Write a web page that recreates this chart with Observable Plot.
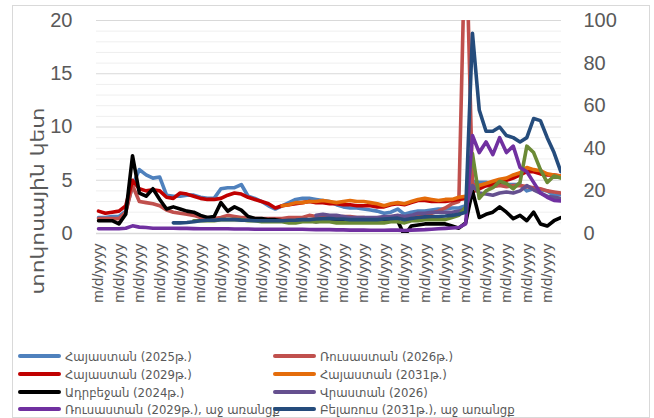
<!DOCTYPE html>
<html><head><meta charset="utf-8">
<script src="https://cdn.jsdelivr.net/npm/d3@7"></script>
<script src="https://cdn.jsdelivr.net/npm/@observablehq/plot@0.6"></script>
<style>
body{margin:0;background:#fff;}
#wrap{position:relative;width:654px;height:418px;overflow:hidden;font-family:"DejaVu Sans Condensed","DejaVu Sans",sans-serif;}
#frame{position:absolute;left:12px;top:5px;width:638px;height:413px;border:1px solid #d9d9d9;box-sizing:border-box;}
#chart{position:absolute;left:0;top:0;}
#legend{position:absolute;left:0;top:0;width:654px;height:418px;}
.item{position:absolute;height:16px;display:flex;align-items:center;font-size:13px;color:#595959;white-space:nowrap;}
.sw{width:43px;height:4px;border-radius:2px;margin-right:4px;flex:none;}
</style></head><body>
<div id="wrap"><div id="frame"></div><div id="chart"></div><div id="legend"></div></div>
<script>
// x tick labels (all dates shown as the raw format string in the source)
const tickIndex = [0,3,6,9,12,15,18,21,24,27,30,33,36,39,42,45,48,51,54,57,60,63,66];
const tickLabel = "m/d/yyyy";
const yTitle = "տոկոսային կետ";

// left-axis series (percentage points)
const arm2025 = [1.5,1.5,1.6,1.6,2.1,4.5,6.0,5.5,5.2,5.3,3.6,3.5,3.5,3.6,3.6,3.4,3.3,3.3,4.2,4.3,4.3,4.6,3.5,3.3,3.0,2.6,2.3,2.6,2.9,3.2,3.3,3.3,3.2,3.1,3.0,2.7,2.5,2.4,2.4,2.3,2.2,2.1,1.9,2.0,2.3,1.8,2.0,2.1,2.1,2.2,2.3,2.3,2.4,2.4,2.6,4.9,4.8,4.8,4.7,4.7,4.6,4.6,4.6,4.0,4.2,4.1,4.0,3.6,3.7];
const rus2026 = [1.4,1.4,1.4,1.4,2.0,4.5,3.0,2.9,2.8,2.6,2.2,2.0,1.9,1.8,1.7,1.5,1.5,1.4,1.5,1.7,1.6,1.5,1.5,1.4,1.4,1.4,1.4,1.4,1.5,1.5,1.5,1.7,1.6,1.5,1.5,1.5,1.6,1.6,1.5,1.5,1.4,1.4,1.5,1.6,1.6,1.5,1.6,1.7,1.8,1.9,2.1,2.4,2.8,3.0,30,4.6,4.5,4.5,4.4,4.5,4.4,4.5,4.5,4.4,4.3,4.2,4.0,3.9,3.8];
const arm2029 = [2.1,1.9,2.0,2.1,2.6,5.0,4.2,4.0,4.1,4.0,3.4,3.3,3.8,3.7,3.5,3.3,3.2,3.2,3.3,3.6,3.8,3.7,3.4,3.2,3.0,2.8,2.4,2.6,2.7,2.8,2.9,3.0,2.9,2.9,2.8,2.8,2.7,2.7,2.6,2.6,2.6,2.5,2.5,2.7,2.8,2.7,2.9,3.1,3.1,3.0,3.0,3.0,3.1,3.2,3.3,3.9,4.2,4.5,4.6,4.8,5.0,5.2,5.5,5.8,5.8,5.6,5.5,5.5,5.4];
const arm2031 = [null,null,null,null,null,null,null,null,null,null,null,null,null,null,null,null,null,null,null,null,null,null,null,null,null,null,null,2.6,2.7,2.9,2.9,3.0,3.0,3.1,3.0,2.9,3.0,3.1,3.0,3.0,2.9,2.8,2.6,2.8,2.9,2.8,3.0,3.2,3.3,3.2,3.1,3.2,3.2,3.4,3.5,4.0,4.5,4.7,4.9,5.1,5.2,5.5,5.7,6.2,6.0,5.9,5.6,5.5,5.4];
const aze2024 = [1.2,1.2,1.2,0.9,1.8,7.3,3.8,3.5,4.2,3.2,2.3,2.5,2.3,2.1,2.0,1.7,1.5,1.6,2.9,2.1,2.5,2.2,1.6,1.4,1.4,1.3,1.3,1.2,1.2,1.1,1.2,1.2,1.1,1.2,1.2,1.1,1.2,1.2,1.1,1.2,1.1,1.2,1.1,1.2,1.2,-0.2,0.7,0.8,0.9,0.9,0.9,0.9,0.7,0.5,1.0,4.0,1.5,1.8,2.0,2.5,2.0,1.4,1.7,1.2,2.0,0.9,0.7,1.2,1.5];
const geo2026 = [null,null,null,null,null,null,null,null,null,null,null,null,null,null,null,null,null,null,null,null,null,null,null,null,null,null,null,null,null,null,null,null,1.7,1.8,1.7,1.7,1.6,1.5,1.5,1.5,1.5,1.5,1.6,1.6,1.7,1.6,1.7,1.9,1.9,2.0,2.0,2.0,2.0,2.1,2.3,4.5,3.8,3.7,3.6,3.8,3.9,3.8,4.0,4.5,4.1,3.8,3.5,3.4,3.3];
const olive = [null,null,null,null,null,null,null,null,null,null,null,null,null,null,1.2,1.2,1.2,1.2,1.3,1.3,1.3,1.3,1.2,1.2,1.1,1.1,1.1,1.1,1.0,1.0,1.1,1.1,1.1,1.1,1.1,1.0,1.0,1.0,1.0,1.0,1.0,1.0,1.0,1.1,1.1,1.0,1.2,1.2,1.3,1.3,1.3,1.3,1.5,1.7,2.5,7.5,3.3,4.0,4.3,4.9,4.7,4.2,4.8,8.2,7.6,6.0,4.8,5.4,5.2];

// right-axis series (0-100 scale)
const rus2029R = [2.2,2.2,2.2,2.2,2.5,3.6,3.0,2.8,2.5,2.5,2.5,2.5,2.4,2.4,2.3,2.2,2.2,2.2,2.2,2.2,2.1,2.1,2.1,2.0,2.0,2.0,2.0,2.0,2.0,2.0,2.0,1.9,1.8,1.8,1.8,1.7,1.7,1.6,1.6,1.6,1.5,1.5,1.5,1.6,1.6,1.4,1.6,1.7,1.8,2.0,2.2,2.4,2.6,2.8,4.5,46,38,43,37,45,38,41,31,29,24,19,17,15.5,15.3];
const blr2031R = [null,null,null,null,null,null,null,null,null,null,null,5.0,5.0,5.2,5.5,6.0,6.2,6.2,6.5,6.5,6.5,6.3,6.2,6.0,6.0,6.0,6.0,6.0,6.2,6.3,6.5,6.5,6.8,7.0,7.0,6.8,6.8,6.5,6.5,6.5,6.5,6.5,6.8,7.0,7.2,6.5,7.0,7.5,7.8,8.0,8.0,8.2,8.5,9.0,10,94,58,48,48,50,46,45,43,45,54,53,45,38,29];

const leftMax = 20, rightMax = 100;
const series = [
  {name:"Հայաստան (2025թ.)", values:arm2025, color:"#4f81bd", right:false, legend:[0,0]},
  {name:"Ռուսաստան (2026թ.)", values:rus2026, color:"#c0504d", right:false, legend:[1,0]},
  {name:"Հայաստան (2029թ.)", values:arm2029, color:"#c00000", right:false, legend:[0,1]},
  {name:"Հայաստան (2031թ.)", values:arm2031, color:"#e46c0a", right:false, legend:[1,1]},
  {name:"Ադրբեջան (2024թ.)", values:aze2024, color:"#000000", right:false, legend:[0,2]},
  {name:"Վրաստան (2026)", values:geo2026, color:"#65508f", right:false, legend:[1,2]},
  {name:"", values:olive, color:"#6b8a35", right:false, legend:null},
  {name:"Ռուսաստան (2029թ.), աջ առանցք", values:rus2029R, color:"#7030a0", right:true, legend:[0,3]},
  {name:"Բելառուս (2031թ.), աջ առանցք", values:blr2031R, color:"#254c7c", right:true, legend:[1,3]}
];

function rows(s){
  const k = s.right ? leftMax/rightMax : 1;
  return s.values.map((v,i)=>({i, v: v==null?null:v*k})).filter(d=>d.v!=null);
}

const minor = d3.range(1,20).filter(d=>d%5!==0);

const plot = Plot.plot({
  width: 654, height: 320,
  marginLeft: 96, marginRight: 93, marginTop: 20, marginBottom: 87,
  style: {fontFamily: "'Liberation Sans', Arial, sans-serif", color: "#595959", background: "transparent", overflow: "visible"},
  x: {type: "linear", domain: [-0.3, 68.1]},
  y: {domain: [0, leftMax]},
  marks: [
    Plot.ruleY(minor, {stroke: "#efefef", strokeWidth: 1}),
    Plot.ruleY([5,10,15,20], {stroke: "#d9d9d9", strokeWidth: 1}),
    Plot.ruleY([0], {stroke: "#d9d9d9", strokeWidth: 1.5}),
    Plot.axisY({ticks: [0,5,10,15,20], tickSize: 0, tickPadding: 24, fontSize: 20, label: null}),
    Plot.axisY({anchor: "right", ticks: [0,4,8,12,16,20], tickFormat: d => String(Math.round(d*rightMax/leftMax)), tickSize: 0, tickPadding: 22, fontSize: 20, label: null}),
    Plot.axisX({ticks: tickIndex, tickFormat: () => tickLabel, tickRotate: -90, tickSize: 0, tickPadding: 10, fontSize: 15, label: null}),
    ...series.map(s => Plot.line(rows(s), {x: "i", y: "v", stroke: s.color, strokeWidth: 3.6, strokeLinejoin: "round", strokeLinecap: "round", clip: true}))
  ]
});
document.getElementById("chart").appendChild(plot);

// y-axis title
d3.select(plot).append("text")
  .attr("transform", "translate(38,201) rotate(-90)")
  .attr("text-anchor", "middle")
  .attr("dy", "0.35em")
  .attr("font-family", "'DejaVu Sans', sans-serif")
  .attr("font-size", 18)
  .attr("fill", "#595959")
  .attr("textLength", 187)
  .attr("lengthAdjust", "spacingAndGlyphs")
  .text(yTitle);

// legend
const legendX = [18, 273], legendY = [356, 374, 392, 409];
const leg = document.getElementById("legend");
series.filter(s => s.legend).forEach(s => {
  const el = document.createElement("div");
  el.className = "item";
  el.style.left = legendX[s.legend[0]] + "px";
  el.style.top = (legendY[s.legend[1]] - 8) + "px";
  const sw = document.createElement("div");
  sw.className = "sw";
  sw.style.background = s.color;
  el.appendChild(sw);
  const t = document.createElement("span");
  t.textContent = s.name;
  el.appendChild(t);
  leg.appendChild(el);
});
</script>
</body></html>
